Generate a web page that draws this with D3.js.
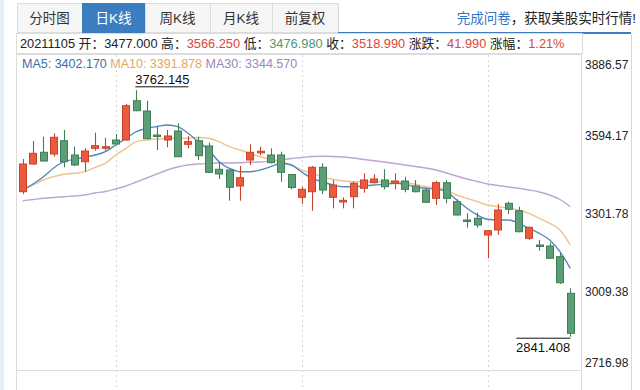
<!DOCTYPE html>
<html>
<head>
<meta charset="utf-8">
<script src="https://cdn.jsdelivr.net/npm/d3@7"></script>
<style>
  body { margin: 0; background: #fff; }
  svg text { font-family: "Liberation Sans", "Noto Sans CJK SC", sans-serif; }
</style>
</head>
<body>
<div id="chart"></div>
<script>
// candles: open, high, low, close
const opens = [3383.2, 3486.7, 3530.5, 3524.1, 3573.8, 3520.4, 3495.3, 3545.4, 3547.6, 3576.4,
  3576.4, 3723.3, 3684.8, 3595.1, 3576.4, 3610.1, 3560.4, 3573.8, 3554.0, 3467.0,
  3464.3, 3404.5, 3501.7, 3530.5, 3520.4, 3520.4, 3447.5, 3362.3, 3383.2, 3474.4,
  3362.3, 3344.8, 3364.6, 3396.0, 3416.9, 3427.0, 3414.7, 3423.2, 3404.5, 3389.6,
  3358.6, 3416.9, 3345.9, 3277.5, 3283.9, 3221.5, 3240.2, 3339.9, 3312.2, 3209.1,
  3184.1, 3180.4, 3140.4, 3003.6];
const highs = [3505.4, 3572.7, 3588.8, 3601.5, 3613.8, 3551.4, 3545.4, 3603.7, 3585.0, 3598.8,
  3711.0, 3762.145, 3723.3, 3625.0, 3613.8, 3638.8, 3591.4, 3588.8, 3566.3, 3495.3,
  3466.0, 3479.3, 3560.4, 3551.4, 3545.4, 3532.7, 3449.4, 3401.9, 3479.3, 3489.3,
  3427.0, 3362.3, 3420.6, 3452.0, 3448.3, 3467.0, 3452.0, 3439.3, 3427.0, 3396.0,
  3424.4, 3427.0, 3354.9, 3302.5, 3304.8, 3240.0, 3337.3, 3345.9, 3327.2, 3252.5,
  3202.8, 3192.7, 3153.1, 3022.3];
const lows = [3374.6, 3484.0, 3496.0, 3514.0, 3474.4, 3479.3, 3458.0, 3536.4, 3536.4, 3559.0,
  3574.0, 3684.0, 3579.0, 3539.1, 3549.2, 3512.0, 3545.4, 3501.7, 3453.0, 3430.7,
  3349.6, 3349.6, 3483.0, 3520.4, 3489.3, 3420.6, 3392.2, 3337.3, 3312.2, 3374.6,
  3321.2, 3321.2, 3321.2, 3379.5, 3414.5, 3392.2, 3392.2, 3381.0, 3381.0, 3342.0,
  3333.5, 3339.9, 3294.0, 3248.8, 3248.8, 3134.4, 3221.5, 3299.9, 3231.0, 3202.8,
  3162.8, 3132.0, 3038.4, 2841.408];
const closes = [3486.7, 3526.7, 3497.9, 3586.5, 3495.3, 3483.0, 3535.3, 3555.1, 3551.4, 3561.5,
  3704.6, 3685.9, 3581.3, 3589.5, 3591.4, 3514.0, 3570.1, 3517.8, 3455.7, 3449.4,
  3399.7, 3435.5, 3530.5, 3534.2, 3491.6, 3455.7, 3399.0, 3392.2, 3474.4, 3389.6,
  3408.3, 3351.1, 3414.7, 3427.0, 3430.7, 3401.9, 3423.2, 3392.2, 3383.2, 3343.7,
  3416.9, 3358.6, 3296.2, 3273.7, 3258.8, 3237.5, 3314.9, 3317.5, 3233.8, 3250.2,
  3181.5, 3134.4, 3043.2, 2854.2];

// moving averages
const ma5 = [3389.6, 3412.0, 3439.3, 3471.8, 3495.3, 3504.3, 3511.8, 3520.4, 3532.7, 3557.8,
  3582.8, 3607.5, 3620.2, 3626.9, 3632.5, 3626.1, 3601.5, 3570.1, 3539.1, 3495.3,
  3470.7, 3458.0, 3458.0, 3464.3, 3476.7, 3489.3, 3483.0, 3456.9, 3433.3, 3420.6,
  3408.3, 3401.9, 3401.9, 3404.5, 3408.3, 3410.9, 3414.7, 3410.9, 3401.9, 3396.0,
  3393.4, 3383.2, 3352.2, 3321.2, 3296.2, 3280.1, 3277.5, 3277.5, 3265.2, 3246.5,
  3227.8, 3202.8, 3159.1, 3097.0];
const ma10 = [3389.6, 3408.3, 3427.0, 3439.3, 3448.3, 3452.0, 3458.0, 3474.4, 3489.3, 3520.4,
  3545.4, 3570.1, 3576.4, 3580.2, 3582.0, 3582.8, 3582.8, 3585.8, 3582.8, 3570.1,
  3551.4, 3539.1, 3526.7, 3514.0, 3504.3, 3495.3, 3483.0, 3464.3, 3452.0, 3439.3,
  3429.6, 3423.2, 3420.6, 3420.6, 3420.6, 3420.6, 3420.6, 3416.9, 3410.9, 3401.9,
  3399.0, 3389.6, 3370.9, 3358.6, 3345.9, 3333.5, 3327.2, 3321.2, 3314.9, 3302.5,
  3283.9, 3265.2, 3240.2, 3184.1];
const ma30 = [3349.6, 3354.1, 3358.6, 3361.6, 3364.6, 3367.2, 3370.9, 3378.4, 3384.0, 3393.4,
  3404.5, 3419.5, 3434.5, 3449.4, 3464.3, 3475.6, 3483.0, 3486.7, 3488.6, 3490.5,
  3490.5, 3491.6, 3493.1, 3494.2, 3497.9, 3501.7, 3507.3, 3511.0, 3514.8, 3515.5,
  3514.8, 3512.9, 3509.2, 3503.5, 3499.1, 3494.2, 3488.6, 3483.0, 3477.4, 3471.8,
  3464.3, 3453.2, 3441.9, 3430.7, 3421.4, 3412.0, 3406.4, 3400.8, 3396.0, 3389.6,
  3382.2, 3370.9, 3354.1, 3327.2];

const yTicks = [2716.98, 3009.38, 3301.78, 3594.17, 3886.57];
const gridIdx = [9, 27, 45];
const tabs = ["分时图", "日K线", "周K线", "月K线", "前复权"];
const activeTab = 1;
const infoParts = [
  ["20211105 开：", "#222"], ["3477.000", "#222"], [" 高：", "#222"], ["3566.250", "#d9463a"],
  [" 低：", "#222"], ["3476.980", "#4f9a6c"], [" 收：", "#222"], ["3518.990", "#d9463a"],
  [" 涨跌：", "#222"], ["41.990", "#d9463a"], [" 涨幅：", "#222"], ["1.21%", "#d9463a"]
];
const maLegend = [["MA5: 3402.170 ", "#3f6fa3"], ["MA10: 3391.878 ", "#e2a95e"], ["MA30: 3344.570", "#9c86b8"]];

const W = 640, H = 390;
const plotLeft = 16, plotRight = 581, plotTop = 57, plotBottom = 370;
const red = "#ec5a3e", redLine = "#c8432b", green = "#5c9f77", greenLine = "#3f7d58";

const svg = d3.select("#chart").append("svg").attr("width", W).attr("height", H);

// left strip and right divider
svg.append("rect").attr("x", 0).attr("y", 0).attr("width", 4).attr("height", H).attr("fill", "#e6edf6");
svg.append("line").attr("x1", 631.5).attr("x2", 631.5).attr("y1", 34).attr("y2", H)
  .attr("stroke", "#d8d8d8");

// tabs
const tabX = [17, 82, 145, 210, 272, 338];
const tabG = svg.append("g");
tabs.forEach((t, i) => {
  tabG.append("rect")
    .attr("x", tabX[i] + 0.5).attr("y", 3.5)
    .attr("width", tabX[i + 1] - tabX[i]).attr("height", 29)
    .attr("fill", i === activeTab ? "#3a7ebf" : "#f6f6f6")
    .attr("stroke", i === activeTab ? "#3a7ebf" : "#dcdcdc");
  tabG.append("text")
    .attr("x", (tabX[i] + tabX[i + 1]) / 2).attr("y", 22.5)
    .attr("text-anchor", "middle").style("font-size", "13.5px")
    .attr("fill", i === activeTab ? "#fff" : "#333").text(t);
});
svg.append("line").attr("x1", 338).attr("x2", 631).attr("y1", 33).attr("y2", 33)
  .attr("stroke", "#3a7ebf").attr("stroke-width", 2);
const promo = svg.append("text").attr("x", 636).attr("y", 22.5).attr("text-anchor", "end")
  .style("font-size", "13.5px");
promo.append("tspan").attr("fill", "#2f76c6").text("完成问卷");
promo.append("tspan").attr("fill", "#222").text("，获取美股实时行情!");

// info row
svg.append("rect").attr("x", 16.5).attr("y", 33.5).attr("width", 566).attr("height", 20)
  .attr("fill", "#fff").attr("stroke", "#dcdcdc");
const info = svg.append("text").attr("x", 20).attr("y", 48).style("font-size", "12.8px");
infoParts.forEach(([t, c]) => info.append("tspan").attr("fill", c).text(t));

// chart frame
svg.append("rect").attr("x", plotLeft + 0.5).attr("y", 54.5).attr("width", plotRight - plotLeft)
  .attr("height", H - 54).attr("fill", "#fff").attr("stroke", "#dcdcdc");
svg.append("line").attr("x1", plotLeft).attr("x2", plotRight)
  .attr("y1", plotBottom + 0.5).attr("y2", plotBottom + 0.5).attr("stroke", "#dcdcdc");

const legend = svg.append("text").attr("x", 22).attr("y", 68).style("font-size", "12.5px");
maLegend.forEach(([t, c]) => legend.append("tspan").attr("fill", c).text(t));

const idx = d3.range(opens.length);
const x = d3.scaleBand().domain(idx).range([plotLeft, 577]).padding(0.3);
const cx = (i) => x(i) + x.bandwidth() / 2;
const y = d3.scaleLinear().domain([yTicks[0], yTicks[yTicks.length - 1]]).range([plotBottom, plotTop]);

// vertical dotted grid
svg.append("g").selectAll("line").data(gridIdx).enter().append("line")
  .attr("x1", (d) => Math.round(cx(d)) + 0.5).attr("x2", (d) => Math.round(cx(d)) + 0.5)
  .attr("y1", 55).attr("y2", H)
  .attr("stroke", "#d6d6d6").attr("stroke-dasharray", "2,3");

// right axis
const yAxis = d3.axisRight(y).tickValues(yTicks).tickSize(0).tickPadding(3).tickFormat(d3.format(".2f"));
const ax = svg.append("g").attr("transform", "translate(" + (plotRight + 1) + ",0)").call(yAxis);
ax.select(".domain").remove();
ax.selectAll("text").style("font-size", "12px").style("font-family", "'Liberation Sans', sans-serif")
  .attr("fill", "#222")
  .attr("dy", (d, i) => (i === 0 ? "-0.3em" : i === yTicks.length - 1 ? "0.95em" : "0.32em"));

// MA lines
const maLine = (arr) => d3.line().x((d, i) => cx(i)).y((d) => y(d)).curve(d3.curveMonotoneX)(arr);
[[ma30, "#bba5d3"], [ma10, "#ecc48e"], [ma5, "#5487bb"]].forEach(([arr, c]) => {
  svg.append("path").attr("d", maLine(arr)).attr("fill", "none")
    .attr("stroke", c).attr("stroke-width", 1.4);
});

// candles
const up = (i) => closes[i] >= opens[i];
const cg = svg.append("g");
cg.selectAll(".wick").data(idx).enter().append("line").attr("class", "wick")
  .attr("x1", (i) => Math.round(cx(i)) + 0.5).attr("x2", (i) => Math.round(cx(i)) + 0.5)
  .attr("y1", (i) => y(highs[i])).attr("y2", (i) => y(lows[i]))
  .attr("stroke", (i) => (up(i) ? redLine : greenLine)).attr("stroke-width", 1.1);
cg.selectAll(".body").data(idx).enter().append("rect").attr("class", "body")
  .attr("x", (i) => Math.round(x(i)) + 0.5)
  .attr("y", (i) => y(Math.max(opens[i], closes[i])))
  .attr("width", Math.round(x.bandwidth()))
  .attr("height", (i) => Math.max(1.5, Math.abs(y(opens[i]) - y(closes[i]))))
  .attr("fill", (i) => (up(i) ? red : green))
  .attr("stroke", (i) => (up(i) ? redLine : greenLine)).attr("stroke-width", 1);

// max / min labels
const hiI = d3.maxIndex(highs), loI = d3.minIndex(lows);
svg.append("text").attr("x", cx(hiI) - 1).attr("y", y(highs[hiI]) - 6)
  .style("font-size", "13px").attr("fill", "#111").text(d3.format(".3f")(highs[hiI]));
svg.append("line").attr("x1", cx(hiI) - 1).attr("x2", cx(hiI) + 52)
  .attr("y1", y(highs[hiI]) - 3.5).attr("y2", y(highs[hiI]) - 3.5).attr("stroke", "#111");
svg.append("line").attr("x1", cx(loI) - 54).attr("x2", cx(loI))
  .attr("y1", y(lows[loI]) + 1.5).attr("y2", y(lows[loI]) + 1.5).attr("stroke", "#111");
svg.append("text").attr("x", cx(loI)).attr("y", y(lows[loI]) + 15).attr("text-anchor", "end")
  .style("font-size", "13px").attr("fill", "#111").text(d3.format(".3f")(lows[loI]));
</script>
</body>
</html>
